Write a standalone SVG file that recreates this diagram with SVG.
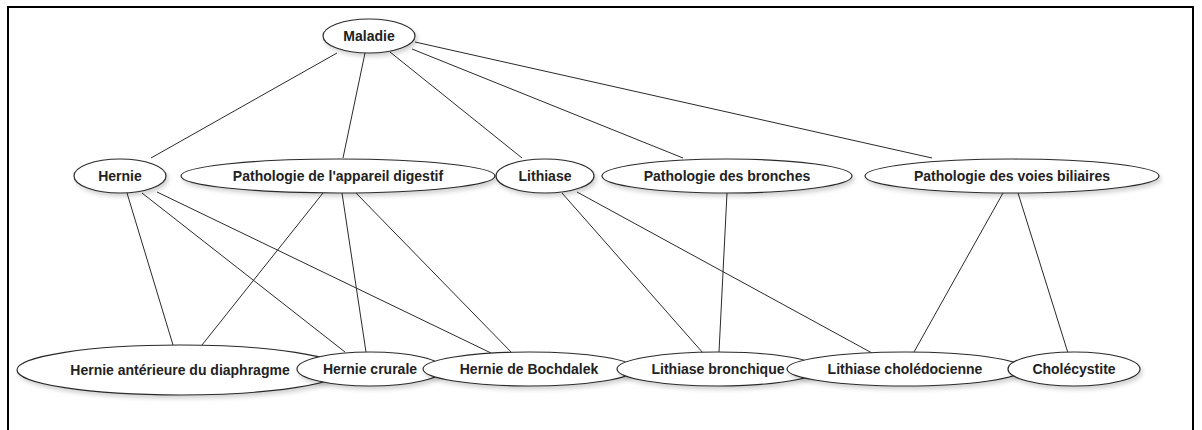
<svg xmlns="http://www.w3.org/2000/svg" width="1202" height="430" viewBox="0 0 1202 430">
<defs>
<filter id="sh" x="-10%" y="-30%" width="125%" height="170%">
<feDropShadow dx="2" dy="3" stdDeviation="2" flood-color="#000" flood-opacity="0.18"/>
</filter>
<style>
.n ellipse{fill:#fff;stroke:#2a2a2a;stroke-width:1.2;filter:url(#sh)}
.n text{font-family:"Liberation Sans",Arial,sans-serif;font-weight:bold;font-size:14px;fill:#222;text-anchor:middle}
#edges line{stroke:#2a2a2a;stroke-width:1}
</style>
</defs>
<rect x="0" y="0" width="1202" height="430" fill="#fff"/>
<rect x="8" y="7" width="1185" height="440" fill="none" stroke="#000" stroke-width="2"/>
<g id="edges">
<line x1="337" y1="53" x2="151" y2="158"/>
<line x1="365" y1="53" x2="343" y2="158"/>
<line x1="390" y1="52" x2="522" y2="158"/>
<line x1="412" y1="49" x2="683" y2="158"/>
<line x1="415" y1="42" x2="932" y2="158"/>
<line x1="127" y1="193" x2="173" y2="345"/>
<line x1="142" y1="193" x2="345" y2="352"/>
<line x1="157" y1="192" x2="491" y2="353"/>
<line x1="323" y1="193" x2="202" y2="345"/>
<line x1="342" y1="193" x2="366" y2="352"/>
<line x1="356" y1="193" x2="512" y2="353"/>
<line x1="562" y1="193" x2="703" y2="353"/>
<line x1="577" y1="192" x2="872" y2="353"/>
<line x1="727" y1="193" x2="719" y2="352"/>
<line x1="1003" y1="193" x2="914" y2="352"/>
<line x1="1018" y1="193" x2="1068" y2="353"/>
</g>
<g id="maladie" class="n"><ellipse cx="369" cy="36" rx="46" ry="17"/><text x="369" y="41">Maladie</text></g>
<g id="hernie" class="n"><ellipse cx="120" cy="176" rx="46" ry="17"/><text x="120" y="181">Hernie</text></g>
<g id="path-digestif" class="n"><ellipse cx="338" cy="176" rx="157" ry="17"/><text x="338" y="181">Pathologie de l'appareil digestif</text></g>
<g id="lithiase" class="n"><ellipse cx="545" cy="176" rx="49" ry="17"/><text x="545" y="181">Lithiase</text></g>
<g id="path-bronches" class="n"><ellipse cx="727" cy="176" rx="125" ry="17"/><text x="727" y="181">Pathologie des bronches</text></g>
<g id="path-biliaires" class="n"><ellipse cx="1012" cy="176" rx="147" ry="17"/><text x="1012" y="181">Pathologie des voies biliaires</text></g>
<g id="hernie-diaphragme" class="n"><ellipse cx="180" cy="370" rx="163" ry="25"/><text x="180" y="375">Hernie antérieure du diaphragme</text></g>
<g id="hernie-crurale" class="n"><ellipse cx="370" cy="369" rx="73" ry="17"/><text x="370" y="374">Hernie crurale</text></g>
<g id="hernie-bochdalek" class="n"><ellipse cx="529" cy="369" rx="106" ry="17"/><text x="529" y="374">Hernie de Bochdalek</text></g>
<g id="lithiase-bronchique" class="n"><ellipse cx="718" cy="369" rx="101" ry="17"/><text x="718" y="374">Lithiase bronchique</text></g>
<g id="lithiase-choledocienne" class="n"><ellipse cx="905" cy="369" rx="118" ry="17"/><text x="905" y="374">Lithiase cholédocienne</text></g>
<g id="cholecystite" class="n"><ellipse cx="1074" cy="369" rx="66" ry="17"/><text x="1074" y="374">Cholécystite</text></g>
</svg>
